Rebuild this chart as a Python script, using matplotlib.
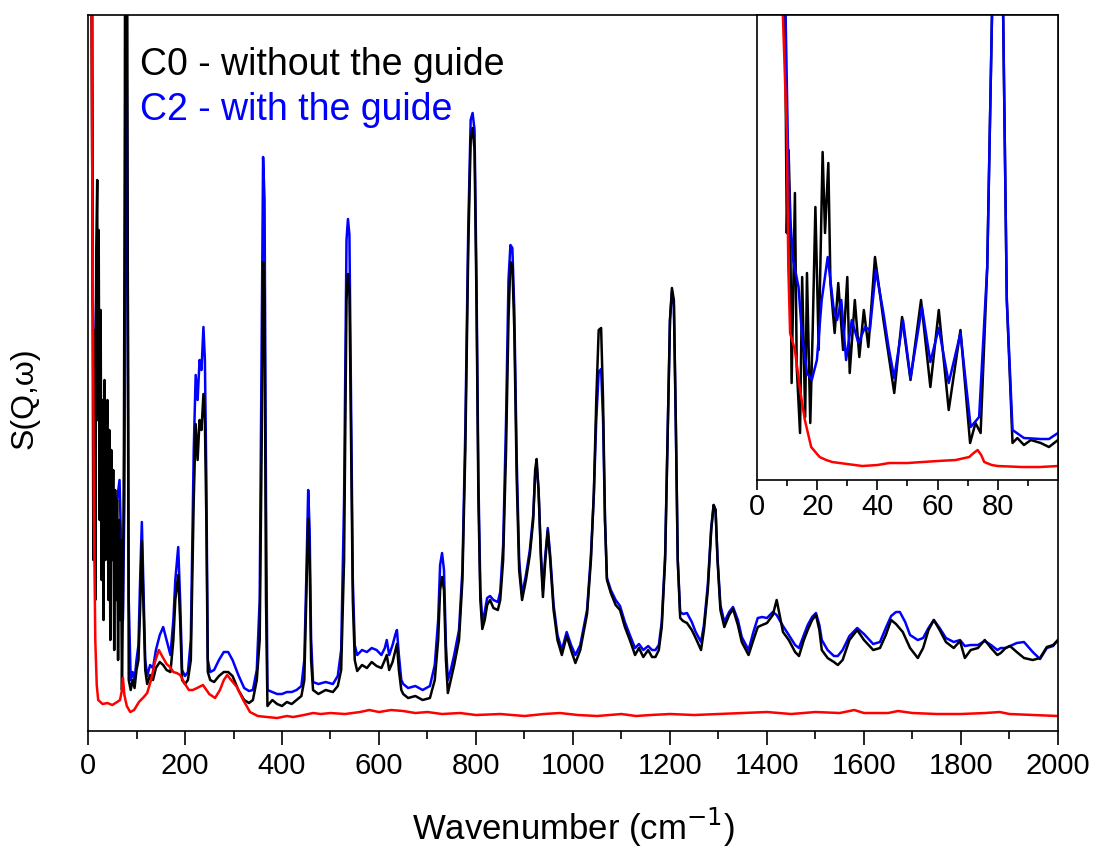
import matplotlib
matplotlib.use('Agg')
import matplotlib.pyplot as plt

plt.rcParams['font.family'] = ['Liberation Sans', 'DejaVu Sans']

# ---- main spectrum (arbitrary intensity units) ----
c0_wn = [4, 9, 11, 13, 15, 17, 19, 20, 22, 24, 26, 28, 30, 32, 34, 36, 38, 40, 42, 44, 46, 48, 50, 52, 54,
         56, 58, 60, 62, 64, 66, 68, 70, 72, 74, 76, 77, 80, 82, 84, 88, 92, 96, 100, 104, 108, 111, 114,
         118, 122, 128, 134, 140, 148, 155, 162, 170, 176, 180, 186, 190, 194, 200, 206, 212, 218, 222,
         226, 230, 234, 238, 241, 244, 247, 252, 260, 270, 280, 289, 298, 310, 322, 332, 340, 348, 354,
         358, 361, 364, 367, 370, 380, 390, 400, 410, 420, 430, 440, 446, 450, 454, 457, 460, 464, 475,
         490, 505, 515, 522, 528, 533, 536, 539, 542, 546, 550, 555, 565, 575, 585, 595, 605, 612, 616,
         621, 628, 634, 637, 641, 646, 650, 660, 675, 690, 705, 715, 722, 726, 730, 734, 738, 742, 748,
         755, 765, 772, 778, 784, 789, 793, 797, 801, 805, 809, 813, 818, 823, 829, 836, 845, 850, 856,
         862, 867, 871, 875, 879, 884, 889, 895, 903, 911, 918, 922, 925, 929, 934, 938, 943, 948, 953,
         960, 968, 977, 987, 996, 1005, 1015, 1029, 1037, 1043, 1048, 1053, 1058, 1062, 1066, 1070, 1078,
         1088, 1097, 1107, 1118, 1128, 1136, 1145, 1155, 1163, 1170, 1177, 1183, 1190, 1195, 1200, 1204,
         1208, 1212, 1216, 1221, 1227, 1235, 1245, 1253, 1264, 1270, 1278, 1285, 1290, 1294, 1298, 1304,
         1312, 1322, 1330, 1340, 1348, 1362, 1372, 1381, 1390, 1400, 1412, 1420, 1426, 1433, 1445, 1458,
         1466, 1476, 1484, 1493, 1501, 1508, 1513, 1525, 1538, 1546, 1556, 1570, 1586, 1600, 1619, 1633,
         1645, 1656, 1666, 1680, 1695, 1711, 1722, 1733, 1744, 1756, 1769, 1785, 1798, 1808, 1820, 1835,
         1849, 1862, 1875, 1882, 1892, 1901, 1915, 1930, 1948, 1963, 1977, 1990, 2000]
c0_int = [1031, 531, 171, 401, 131, 481, 551, 311, 501, 211, 421, 151, 331, 111, 351, 171, 281, 331, 131,
          301, 91, 281, 171, 261, 81, 241, 131, 231, 71, 211, 111, 191, 41, 131, 281, 631, 1031, 1031, 431,
          51, 41, 51, 43, 61, 71, 131, 190, 131, 61, 47, 56, 51, 63, 69, 66, 61, 59, 91, 131, 156, 111, 51,
          47, 51, 71, 231, 307, 271, 311, 301, 337, 311, 211, 59, 51, 49, 55, 59, 59, 55, 41, 31, 28, 31,
          51, 91, 281, 469, 431, 131, 25, 31, 27, 25, 29, 27, 31, 35, 51, 131, 212, 171, 71, 41, 37, 41, 39,
          45, 61, 171, 431, 457, 441, 311, 131, 71, 60, 66, 63, 69, 65, 63, 71, 76, 61, 69, 81, 87, 61, 41,
          37, 33, 35, 31, 33, 51, 91, 141, 154, 141, 71, 38, 51, 66, 91, 151, 281, 481, 591, 603, 581, 431,
          231, 131, 102, 111, 126, 131, 123, 121, 131, 171, 281, 411, 469, 466, 401, 251, 161, 131, 151,
          176, 211, 261, 272, 241, 171, 134, 171, 200, 171, 121, 91, 76, 95, 81, 68, 81, 117, 171, 238, 331,
          401, 403, 331, 211, 151, 138, 126, 121, 104, 90, 76, 83, 74, 81, 74, 74, 81, 104, 171, 291, 411,
          443, 431, 311, 171, 113, 110, 108, 101, 93, 81, 101, 141, 201, 226, 221, 171, 121, 104, 116, 122,
          106, 89, 76, 91, 104, 106, 108, 116, 131, 116, 99, 91, 79, 75, 91, 101, 111, 116, 101, 81, 73, 69,
          66, 71, 91, 101, 91, 81, 83, 96, 111, 107, 99, 83, 73, 83, 101, 111, 101, 89, 83, 90, 73, 81, 83,
          91, 83, 76, 78, 83, 85, 79, 73, 71, 73, 84, 86, 91]

c2_wn = [8, 10, 14, 18, 22, 26, 30, 35, 40, 45, 50, 55, 60, 65, 68, 72, 75, 77, 79, 80, 82, 84, 88, 92, 96,
         100, 104, 108, 111, 114, 118, 122, 128, 134, 140, 148, 155, 162, 170, 176, 180, 186, 190, 194, 200,
         206, 212, 218, 222, 226, 230, 234, 238, 241, 244, 247, 252, 260, 270, 280, 289, 298, 310, 322, 332,
         340, 348, 354, 358, 361, 364, 367, 370, 380, 390, 400, 410, 420, 430, 440, 446, 450, 454, 457, 460,
         464, 475, 490, 505, 515, 522, 528, 533, 536, 539, 542, 546, 550, 555, 565, 575, 585, 595, 605, 612,
         616, 621, 628, 634, 637, 641, 646, 650, 660, 675, 690, 705, 715, 722, 726, 730, 734, 738, 742, 748,
         755, 765, 772, 778, 784, 789, 793, 797, 801, 805, 809, 813, 818, 823, 829, 836, 845, 850, 856, 862,
         867, 871, 875, 879, 884, 889, 895, 903, 911, 918, 922, 925, 929, 934, 938, 943, 948, 953, 960, 968,
         977, 987, 996, 1005, 1015, 1029, 1037, 1043, 1048, 1053, 1058, 1062, 1066, 1070, 1078, 1088, 1097,
         1107, 1118, 1128, 1136, 1145, 1155, 1163, 1170, 1177, 1183, 1190, 1195, 1200, 1204, 1208, 1212,
         1216, 1221, 1227, 1235, 1245, 1253, 1264, 1270, 1278, 1285, 1290, 1294, 1298, 1304, 1312, 1322,
         1330, 1340, 1348, 1362, 1372, 1381, 1390, 1400, 1412, 1420, 1426, 1433, 1445, 1458, 1466, 1476,
         1484, 1493, 1501, 1508, 1513, 1525, 1538, 1546, 1556, 1570, 1586, 1600, 1619, 1633, 1645, 1656,
         1666, 1674, 1685, 1695, 1711, 1722, 1733, 1744, 1756, 1769, 1785, 1798, 1808, 1820, 1835, 1849,
         1862, 1875, 1882, 1892, 1901, 1915, 1930, 1948, 1963, 1977, 1990, 2000]
c2_int = [1031, 431, 351, 311, 401, 301, 261, 291, 271, 231, 241, 221, 231, 251, 191, 111, 231, 461, 631,
          651, 464, 131, 51, 59, 51, 71, 86, 161, 209, 151, 71, 55, 66, 63, 81, 96, 104, 91, 76, 111, 151,
          184, 131, 61, 55, 59, 91, 281, 356, 331, 371, 361, 404, 371, 251, 71, 59, 61, 71, 79, 79, 71, 56,
          43, 40, 41, 61, 131, 381, 574, 531, 231, 41, 39, 37, 37, 39, 39, 41, 45, 71, 151, 241, 201, 91, 49,
          47, 49, 47, 55, 81, 231, 491, 512, 496, 351, 151, 86, 76, 81, 79, 83, 81, 76, 83, 91, 76, 86, 97,
          101, 76, 51, 47, 43, 45, 41, 45, 66, 111, 166, 178, 161, 86, 51, 61, 76, 101, 161, 301, 501, 611,
          618, 601, 451, 251, 141, 109, 119, 133, 135, 131, 129, 139, 186, 311, 451, 486, 483, 421, 271,
          171, 136, 156, 181, 216, 256, 266, 241, 176, 141, 176, 203, 176, 126, 96, 81, 99, 86, 76, 86, 121,
          176, 236, 311, 359, 362, 311, 211, 153, 141, 131, 125, 109, 95, 83, 87, 81, 85, 81, 81, 86, 109,
          176, 291, 411, 439, 426, 306, 171, 119, 117, 118, 109, 99, 89, 106, 146, 203, 226, 221, 173, 126,
          109, 119, 124, 111, 94, 81, 99, 113, 114, 113, 119, 116, 111, 105, 96, 86, 83, 96, 106, 114, 118,
          106, 91, 81, 75, 75, 81, 95, 103, 97, 87, 89, 103, 115, 119, 119, 109, 96, 91, 93, 103, 111, 103,
          93, 89, 91, 85, 86, 86, 90, 86, 81, 83, 83, 85, 88, 89, 79, 72, 83, 85, 91]

ref_wn = [0, 5, 9, 12, 15, 18, 21, 30, 40, 50, 60, 66, 70, 72, 75, 80, 87, 95, 105, 115, 122, 130, 138, 146,
          155, 162, 169, 176, 183, 190, 200, 208, 216, 225, 237, 250, 262, 272, 280, 287, 295, 307, 320, 334,
          350, 369, 390, 410, 423, 445, 464, 480, 500, 530, 561, 580, 600, 625, 650, 675, 700, 730, 767, 800,
          850, 900, 940, 973, 1010, 1050, 1100, 1130, 1160, 1200, 1250, 1300, 1350, 1400, 1450, 1500, 1550,
          1580, 1600, 1650, 1670, 1700, 1750, 1800, 1850, 1880, 1900, 1950, 2000]
ref_int = [1031, 1031, 531, 231, 91, 46, 31, 27, 28, 26, 29, 31, 41, 53, 36, 25, 19, 21, 29, 34, 38, 51, 69,
           81, 73, 67, 64, 59, 58, 56, 47, 41, 41, 43, 46, 37, 33, 41, 51, 56, 51, 44, 31, 19, 15, 14, 13, 15,
           14, 16, 18, 17, 18, 17, 19, 21, 19, 21, 20, 18, 19, 17, 18, 16, 17, 15, 17, 18, 16, 15, 17, 15, 16,
           17, 16, 17, 18, 19, 17, 19, 18, 21, 18, 18, 20, 18, 17, 17, 18, 19, 17, 16, 15]

# ---- inset: low-energy zoom 0-100 cm-1 ----
in_c0_wn = [8.6, 9.3, 9.9, 10.5, 11, 11.5, 12.6, 13.2, 14.3, 15, 16, 16.6, 17.7, 18.5, 19.4, 20.5, 21.8,
            22.6, 23.7, 24.4, 25.8, 27, 28.6, 30, 30.8, 32.5, 34, 35.5, 37, 39.2, 42, 45.6, 48.2, 51, 54.5,
            57.6, 60.4, 63.7, 67.6, 70.8, 72.6, 74.3, 76.5, 78.8, 80, 81.3, 83, 84.9, 86.5, 88.7, 91, 94.3,
            97, 100]
in_c0_int = [680, 465, 247, 330, 270, 97, 287, 113, 47, 203, 63, 207, 57, 150, 273, 130, 328, 247, 317, 197,
             147, 197, 130, 203, 107, 180, 123, 170, 133, 223, 160, 87, 163, 100, 180, 93, 170, 70, 150, 37,
             57, 47, 213, 580, 780, 580, 180, 37, 42, 35, 40, 37, 33, 40]

in_c2_wn = [9, 9.5, 10.4, 11, 12, 13.8, 14.9, 16.6, 18.2, 19.9, 21.5, 23.5, 25.4, 26.6, 28, 29.6, 31.5,
            33.7, 35.9, 37.5, 39.5, 42, 43.7, 45.6, 48.5, 51, 54.8, 57.6, 60.4, 63.7, 67.6, 71, 73.8, 76.5,
            78.8, 80, 81.3, 83, 84.9, 88.7, 94.3, 97, 100]
in_c2_int = [680, 465, 313, 263, 220, 193, 147, 107, 100, 120, 180, 223, 173, 160, 180, 120, 160, 137, 153,
             150, 210, 167, 133, 102, 160, 102, 173, 118, 152, 97, 147, 53, 63, 213, 580, 780, 580, 180, 50,
             42, 41, 41, 47]

in_ref_wn = [8, 8.6, 9.9, 10.4, 11, 12.6, 14.3, 15.9, 18, 20.8, 23, 25, 30, 35, 40, 44, 50, 55, 60, 66,
             70.5, 72, 73.3, 74.5, 75.5, 78, 80, 88, 94, 100]
in_ref_int = [680, 465, 347, 213, 147, 130, 90, 60, 33, 23, 20, 18, 16, 14, 15, 17, 17, 18, 19, 20, 23, 27,
              30, 25, 18, 15, 14, 13, 13, 14]

fig = plt.figure(figsize=(10.96, 8.52), dpi=100)
ax = fig.add_axes([0.0803, 0.142, 0.885, 0.8404])

lw = 1.8
ax.plot(c2_wn, c2_int, color='blue', lw=lw)
ax.plot(c0_wn, c0_int, color='black', lw=lw)
ax.plot(ref_wn, ref_int, color='red', lw=lw)

ax.set_xlim(0, 2000)
ax.set_ylim(0, 716)
ax.set_xticks(range(0, 2001, 200))
ax.set_xticks(range(100, 2000, 200), minor=True)
ax.set_yticks([])
ax.tick_params(axis='x', which='major', direction='out', length=10, width=1.2, pad=5, labelsize=21)
ax.tick_params(axis='x', which='minor', direction='out', length=6, width=1.2)
for s in ax.spines.values():
    s.set_linewidth(1.2)

ax.set_xlabel('Wavenumber (cm$^{-1}$)', fontsize=25)
ax.xaxis.set_label_coords(0.5, -0.105)
ax.set_ylabel('S(Q,\u03c9)', fontsize=23)
ax.yaxis.set_label_coords(-0.05, 0.465)

ax.text(0.0536, 0.93, 'C0 - without the guide', color='black', fontsize=27,
        transform=ax.transAxes, ha='left', va='center')
ax.text(0.0536, 0.867, 'C2 - with the guide', color='blue', fontsize=27,
        transform=ax.transAxes, ha='left', va='center')

# inset
axin = fig.add_axes([0.6907, 0.4366, 0.2746, 0.5458])
axin.plot(in_c0_wn, in_c0_int, color='black', lw=lw)
axin.plot(in_c2_wn, in_c2_int, color='blue', lw=lw)
axin.plot(in_ref_wn, in_ref_int, color='red', lw=lw)
axin.set_xlim(0, 100)
axin.set_ylim(0, 465)
axin.set_xticks([0, 20, 40, 60, 80])
axin.set_xticks([10, 30, 50, 70, 90], minor=True)
axin.set_yticks([])
axin.tick_params(axis='x', which='major', direction='out', length=7, width=1.2, pad=2, labelsize=21)
axin.tick_params(axis='x', which='minor', direction='out', length=4, width=1.2)
for s in axin.spines.values():
    s.set_linewidth(1.2)

plt.savefig('out.png', dpi=100)
